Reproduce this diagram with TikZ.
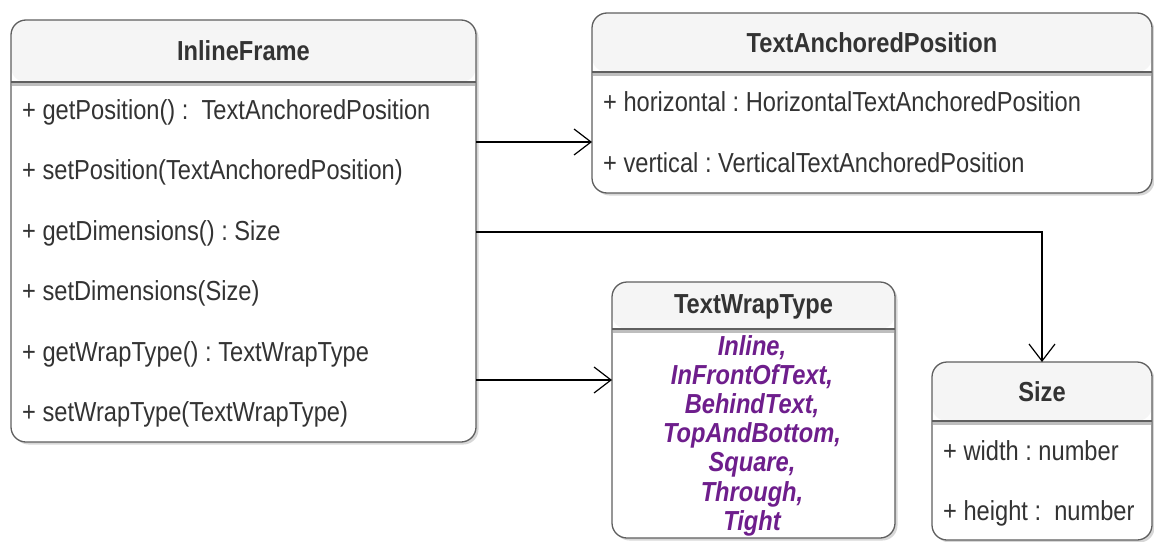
\documentclass[tikz,border=0pt]{standalone}
\usepackage{fontspec}
\setmainfont[FakeStretch=0.86]{Liberation Sans}
\usetikzlibrary{arrows.meta}
\definecolor{linecol}{RGB}{95,95,95}
\definecolor{headfill}{RGB}{245,245,245}
\definecolor{bandcol}{RGB}{190,190,190}
\definecolor{shadecol}{RGB}{215,215,215}
\definecolor{txtcol}{RGB}{51,51,51}
\definecolor{enumcol}{RGB}{110,30,140}

% name, left, top, right, bottom, header bottom, title baseline, title
\newcommand{\umlclass}[8]{%
\fill[shadecol, rounded corners=15pt] ({#2+2.5},{#3+2.5}) rectangle ({#4+2.5},{#5+2.5});
\node[classbox, minimum width={(#4-#2)*1pt}, minimum height={(#5-#3)*1pt},
  path picture={\fill[headfill] (path picture bounding box.north west) rectangle ([yshift={(#3-#6)*1pt}]path picture bounding box.north east);}]
  (#1) at ({(#2+#4)/2},{(#3+#5)/2}) {};
\fill[bandcol] ({#2+0.7},#6) rectangle ({#4-0.7},{#6+4});
\draw[linecol, line width=1.3pt] (#2,#6) -- (#4,#6);
\node[titletext] (#1-title) at ({(#2+#4)/2},#7) {#8};
}

\begin{document}
\frenchspacing
\fontsize{27.5}{29}\selectfont
\begin{tikzpicture}[x=1pt, y=-1pt,
  classbox/.style={draw=linecol, line width=1.3pt, fill=white, rounded corners=15pt, inner sep=0pt, outer sep=0pt},
  titletext/.style={anchor=base, inner sep=0pt, text=txtcol, font=\bfseries},
  rowtext/.style={anchor=base west, inner sep=0pt, text=txtcol},
  enumtext/.style={anchor=base, inner sep=0pt, text=enumcol, font=\bfseries\itshape},
  assoc/.style={-{Straight Barb[length=17pt,width=26pt]}, line width=1.2pt, black}]
\useasboundingbox (0,0) rectangle (1154,541);

% classes
\umlclass{inline}{11}{20}{476}{442}{82}{60}{InlineFrame}
\umlclass{tap}{592}{13}{1152}{193}{72}{52}{TextAnchoredPosition}
\umlclass{wrap}{612}{282}{895}{538}{329}{313}{TextWrapType}
\umlclass{size}{932}{362}{1152}{540}{421}{401}{Size}

% members
\foreach \txt [count=\i] in {{+ getPosition() :\ \ TextAnchoredPosition}, {+ setPosition(TextAnchoredPosition)},
    {+ getDimensions() : Size}, {+ setDimensions(Size)}, {+ getWrapType() : TextWrapType}, {+ setWrapType(TextWrapType)}}
  \node[rowtext] (inline-row\i) at (22, {119+60.5*(\i-1)}) {\txt};
\node[rowtext] (tap-row1) at (603,111) {+ horizontal : HorizontalTextAnchoredPosition};
\node[rowtext] (tap-row2) at (603,172) {+ vertical : VerticalTextAnchoredPosition};
\node[rowtext] (size-row1) at (943,460) {+ width : number};
\node[rowtext] (size-row2) at (943,520) {+ height :\ \ number};
\foreach \w [count=\i] in {{Inline,}, {InFrontOfText,}, {BehindText,}, {TopAndBottom,}, {Square,}, {Through,}, {Tight}}
  \node[enumtext] (wrap-item\i) at (752, {355+29.2*(\i-1)}) {\w};

% associations
\coordinate (toTAP) at (0,142);
\coordinate (toSize) at (0,232);
\coordinate (toWrap) at (0,380);
\draw[assoc] (inline.east |- toTAP) -- (tap.west |- toTAP);
\draw[assoc] (inline.east |- toSize) -| (size.north);
\draw[assoc] (inline.east |- toWrap) -- (wrap.west |- toWrap);
\end{tikzpicture}
\end{document}
